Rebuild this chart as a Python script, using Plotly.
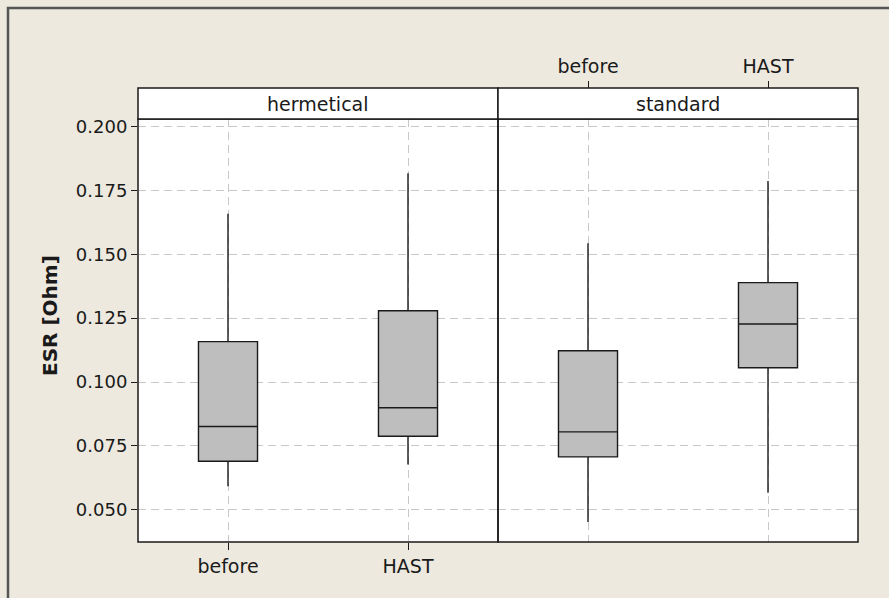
import plotly.graph_objects as go

# ESR summary statistics per panel and test condition
conditions = ["before", "HAST"]
panels = ["hermetical", "standard"]

herm_lower = [0.0592, 0.0677]
herm_q1 = [0.0690, 0.0788]
herm_median = [0.0826, 0.0899]
herm_q3 = [0.1158, 0.1279]
herm_upper = [0.1658, 0.1817]

std_lower = [0.0452, 0.0567]
std_q1 = [0.0707, 0.1056]
std_median = [0.0805, 0.1227]
std_q3 = [0.1122, 0.1389]
std_upper = [0.1543, 0.1786]

y_ticks = [0.050, 0.075, 0.100, 0.125, 0.150, 0.175, 0.200]
y_tick_text = ["0.050", "0.075", "0.100", "0.125", "0.150", "0.175", "0.200"]

BG = "#EDE9DF"
FONT = "DejaVu Sans"
BOX_FILL = "#BEBEBE"
GRID = "#C8C8C8"
INK = "#1A1A1A"

W, H = 889, 598
ML, MR, MT, MB = 138, 31, 88, 56
PW = W - ML - MR  # paper width in px
PH = H - MT - MB  # paper height in px
STRIP_PX = 31
y_top = 1 - STRIP_PX / PH

fig = go.Figure()

box_style = dict(
    fillcolor=BOX_FILL,
    line=dict(color=INK, width=1.4),
    whiskerwidth=0,
    width=0.328,
    showlegend=False,
    boxpoints=False,
    hoverinfo="y",
)

fig.add_trace(go.Box(
    x=conditions, q1=herm_q1, median=herm_median, q3=herm_q3,
    lowerfence=herm_lower, upperfence=herm_upper,
    xaxis="x", yaxis="y", name=panels[0], **box_style))
fig.add_trace(go.Box(
    x=conditions, q1=std_q1, median=std_median, q3=std_q3,
    lowerfence=std_lower, upperfence=std_upper,
    xaxis="x2", yaxis="y", name=panels[1], **box_style))

grid_common = dict(showgrid=True, gridcolor=GRID, gridwidth=1, griddash="8px,5px")
x_tick_font = dict(family=FONT, size=19, color=INK)
y_tick_font = dict(family=FONT, size=18, color=INK)

fig.update_layout(
    width=W, height=H,
    margin=dict(l=ML, r=MR, t=MT, b=MB, pad=0),
    paper_bgcolor=BG,
    plot_bgcolor="white",
    font=dict(family=FONT, color=INK),
    xaxis=dict(
        domain=[0, 0.5], anchor="y", type="category",
        categoryorder="array", categoryarray=conditions,
        range=[-0.5, 1.5], side="bottom",
        ticks="outside", ticklen=7, tickcolor=INK, tickwidth=1,
        tickfont=x_tick_font, showline=False, zeroline=False, **grid_common),
    xaxis2=dict(
        domain=[0.5, 1], anchor="free", position=1, type="category",
        categoryorder="array", categoryarray=conditions,
        range=[-0.5, 1.5], side="top",
        ticks="outside", ticklen=7, tickcolor=INK, tickwidth=1,
        tickfont=x_tick_font, showline=False, zeroline=False, **grid_common),
    yaxis=dict(
        domain=[0, y_top], anchor="x",
        range=[0.0374, 0.2029],
        tickmode="array", tickvals=y_ticks, ticktext=y_tick_text,
        ticks="outside", ticklen=6, tickcolor=INK, tickwidth=1,
        tickfont=y_tick_font, showline=False, zeroline=False,
        **grid_common),
)

# Y-axis title
fig.add_annotation(
    x=(50 - ML) / PW, y=(H - MB - 316) / PH, xref="paper", yref="paper",
    text="<b>ESR [Ohm]</b>", textangle=-90, showarrow=False,
    font=dict(family=FONT, size=20, color=INK), xanchor="center", yanchor="middle")

# Panel frames and strip headers
shapes = []
for i, name in enumerate(panels):
    x0, x1 = i * 0.5, (i + 1) * 0.5
    shapes.append(dict(type="rect", xref="paper", yref="paper", x0=x0, x1=x1, y0=0, y1=y_top,
                       line=dict(color=INK, width=1.5), fillcolor="rgba(0,0,0,0)", layer="above"))
    shapes.append(dict(type="rect", xref="paper", yref="paper", x0=x0, x1=x1, y0=y_top, y1=1,
                       line=dict(color=INK, width=1.5), fillcolor="white", layer="above"))
    fig.add_annotation(x=(x0 + x1) / 2, y=(y_top + 1) / 2, xref="paper", yref="paper",
                       text=name, showarrow=False, font=dict(family=FONT, size=19, color=INK),
                       xanchor="center", yanchor="middle")

# Outer window frame (top and left edges)
fx = (8 - ML) / PW
fy = (H - MB - 8) / PH
shapes.append(dict(type="path", xref="paper", yref="paper",
                   path=f"M {fx} -0.3 L {fx} {fy} L 1.2 {fy}",
                   line=dict(color="#555555", width=2.5), layer="above"))

fig.update_layout(shapes=shapes)

fig.write_html("out.html")
